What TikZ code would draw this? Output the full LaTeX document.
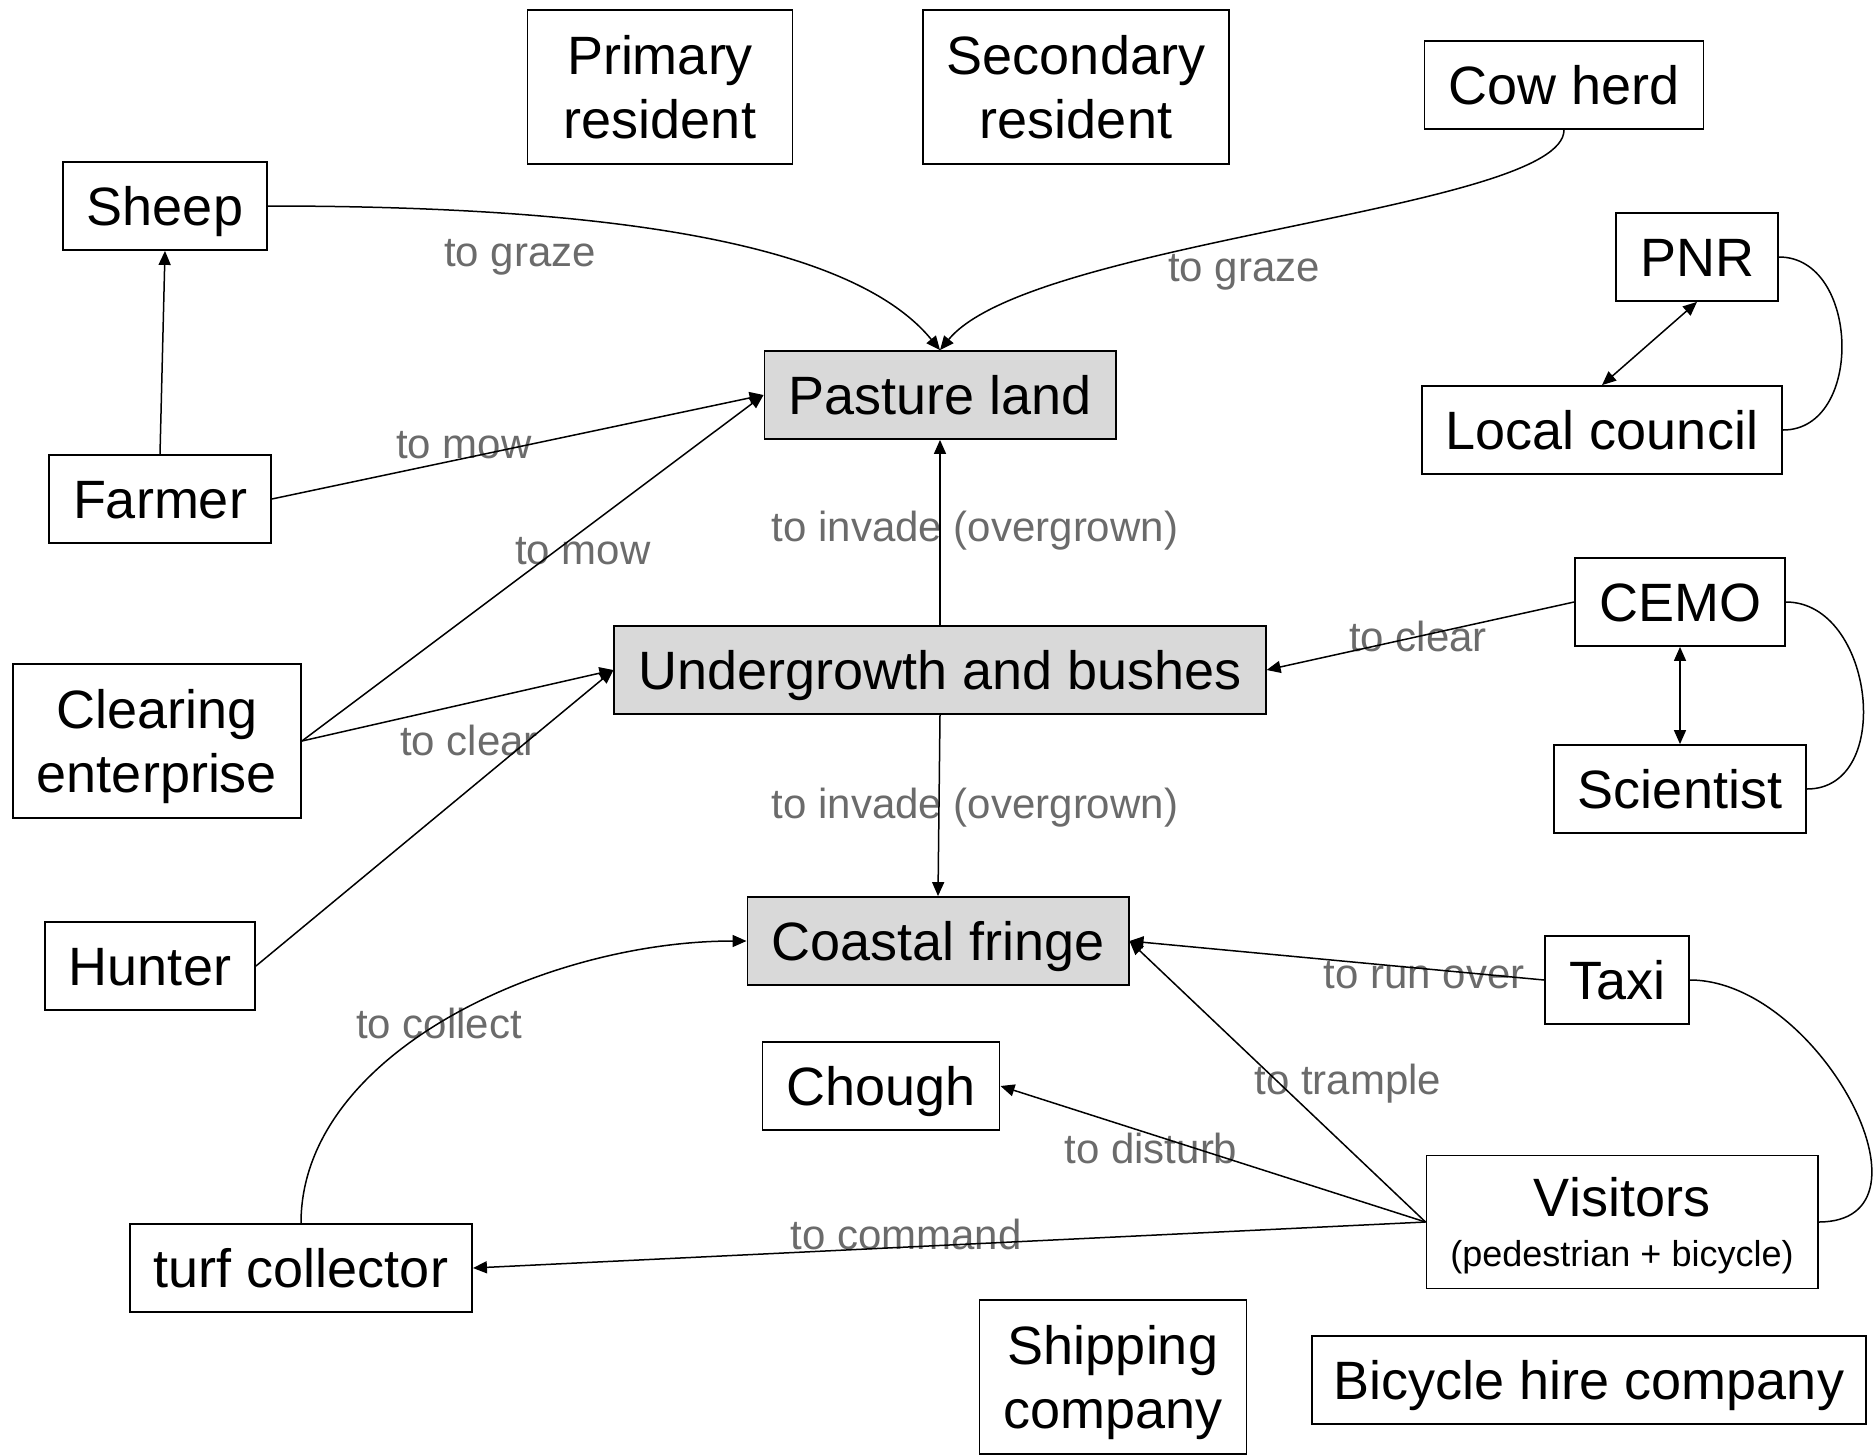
\documentclass[tikz,border=0pt]{standalone}
\usepackage{fontspec}
\setmainfont{Liberation Sans}
\usetikzlibrary{arrows.meta}
\definecolor{lbl}{gray}{0.42}
\definecolor{area}{gray}{0.85}

\begin{document}
\begin{tikzpicture}[x=1pt,y=-1pt,
  box/.style={draw,line width=1.8pt,inner xsep=24pt,minimum height=88pt,
    align=center,text depth=0pt,font=\fontsize{54}{64}\selectfont},
  one/.style={box,text height=39pt},
  tall/.style={box,minimum height=154pt},
  land/.style={one,fill=area},
  verb/.style={text=lbl,inner sep=0pt,font=\fontsize{42}{50}\selectfont},
  rel/.style={line width=1.5pt},
  >={Triangle[length=14pt,width=12pt]}]
  \useasboundingbox (0,0) rectangle (1876,1454);

  % actors and areas
  \node[tall,minimum width=265pt] (prim) at (660,87) {Primary\\resident};
  \node[tall] (sec) at (1076,87) {Secondary\\resident};
  \node[one] (cow) at (1564,85) {Cow herd};
  \node[one] (sheep) at (165,206) {Sheep};
  \node[one] (pnr) at (1697,257) {PNR};
  \node[one] (council) at (1602,430) {Local council};
  \node[land] (pasture) at (940,395) {Pasture land};
  \node[one] (farmer) at (160,499) {Farmer};
  \node[one] (cemo) at (1680,602) {CEMO};
  \node[land] (under) at (940,670) {Undergrowth and bushes};
  \node[tall] (clearing) at (157,741) {Clearing\\enterprise};
  \node[one] (scientist) at (1680,789) {Scientist};
  \node[one] (hunter) at (150,966) {Hunter};
  \node[land] (coastal) at (938,941) {Coastal fringe};
  \node[one] (taxi) at (1617,980) {Taxi};
  \node[one] (chough) at (881,1086) {Chough};
  \node[box,minimum height=133pt] (visitors) at (1622,1222)
    {Visitors\\[-14pt]{\fontsize{36}{42}\selectfont (pedestrian + bicycle)}};
  \node[one] (turf) at (301,1268) {turf collector};
  \node[tall] (ship) at (1113,1377) {Shipping\\company};
  \node[one,inner xsep=22pt] (hire) at (1589,1380) {Bicycle hire company};

  % verbs
  \node[verb] (g1) at (520,257) {to graze};
  \node[verb] (g2) at (1244,272) {to graze};
  \node[verb] (m1) at (464,445) {to mow};
  \node[verb] (m2) at (583,551) {to mow};
  \node[verb] (i1) at (975,531) {to invade (overgrown)};
  \node[verb] (c1) at (1418,636) {to clear};
  \node[verb] (c2) at (469,740) {to clear};
  \node[verb] (i2) at (975,808) {to invade (overgrown)};
  \node[verb] (r1) at (1424,975) {to run over};
  \node[verb] (k1) at (439,1023) {to collect};
  \node[verb] (t1) at (1348,1084) {to trample};
  \node[verb] (d1) at (1151,1148) {to disturb};
  \node[verb] (o1) at (906,1234) {to command};

  % relations
  \draw[rel,->] (sheep.east) .. controls +(330,0) and +(-90,-110) .. (pasture.north);
  \draw[rel,->] (cow.south) .. controls +(0,80) and +(90,-110) .. (pasture.north);
  \draw[rel,->] (farmer.north) -- (sheep.south);
  \draw[rel,->] (farmer.east) -- (pasture.west);
  \draw[rel,->] (clearing.east) -- (pasture.west);
  \draw[rel,->] (clearing.east) -- (under.west);
  \draw[rel,->] (hunter.east) -- (under.west);
  \draw[rel,->] (under) -- (pasture);
  \draw[rel,->] (under.south) -- (coastal.north);
  \draw[rel,->] (cemo.west) -- (under.east);
  %
  \draw[rel,<->] (pnr.south) -- (council.north);
  \draw[rel] (pnr.east) to[out=0,in=0,looseness=1.2] (council.east);
  \draw[rel,<->] (cemo) -- (scientist);
  \draw[rel] (cemo.east) to[out=0,in=0,looseness=1.2] (scientist.east);
  \draw[rel] (taxi.east) to[out=0,in=0,looseness=1.2] (visitors.east);
  %
  \draw[rel,->] (taxi.west) -- (coastal.east);
  \draw[rel,->] (visitors.west) -- (coastal.east);
  \draw[rel,->] (visitors.west) -- (chough.east);
  \draw[rel,->] (visitors.west) -- (turf.east);
  \draw[rel,->] (turf.north) .. controls +(0,-170) and +(-200,0) .. (coastal.west);
\end{tikzpicture}
\end{document}
